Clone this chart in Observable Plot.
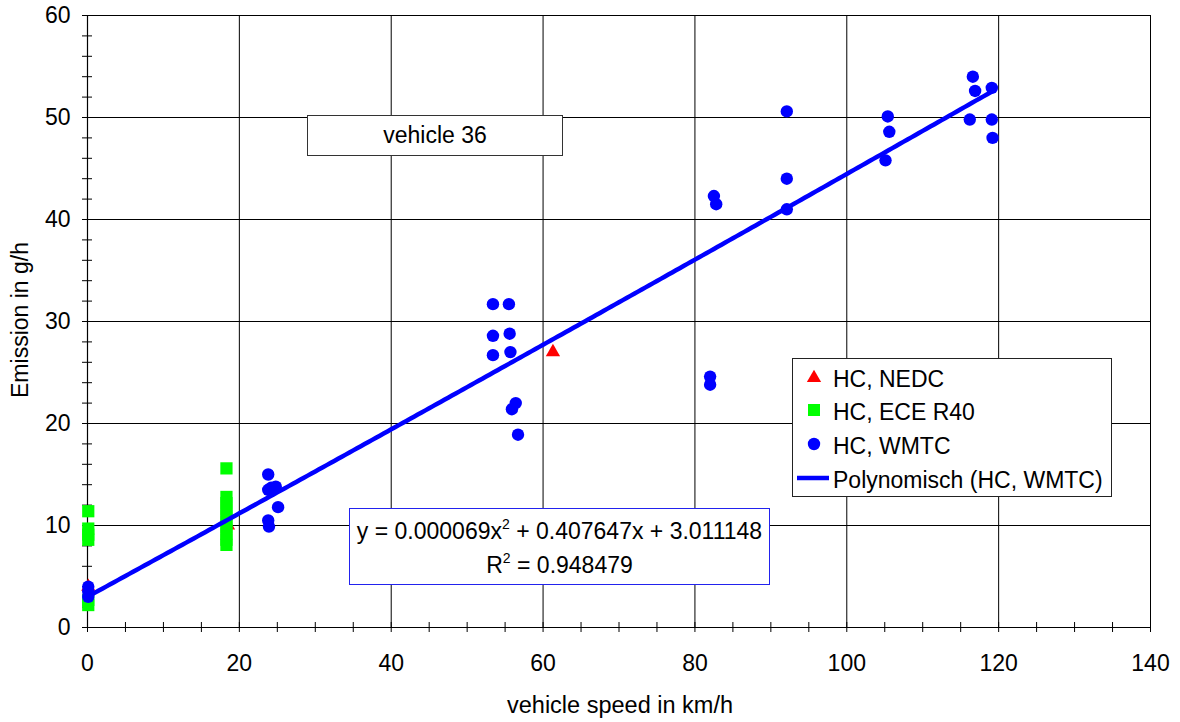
<!DOCTYPE html>
<html><head><meta charset="utf-8">
<script src="https://cdn.jsdelivr.net/npm/d3@7"></script>
<script src="https://cdn.jsdelivr.net/npm/@observablehq/plot@0.6"></script>
<style>
body{margin:0;background:#fff;font-family:"Liberation Sans",Arial,sans-serif;color:#000;}
#wrap{position:relative;width:1180px;height:722px;overflow:hidden;}
#wrap svg{position:absolute;left:0;top:0;}
.ov{position:absolute;font-size:23px;line-height:1;color:#000;}
sup{font-size:14px;vertical-align:top;position:relative;top:-3px;}
</style></head><body><div id="wrap"></div><script>
// ---- data ----
const nedcSpeed    = [0.1, 18.5, 61.3];
const nedcEmission = [4.0, 10.0, 27.0];

const eceSpeed    = [0.1, 0.1, 0.1, 0.1, 0.1, 0.1, 18.3, 18.3, 18.3, 18.3, 18.3, 18.3, 18.3, 18.3, 18.3, 18.3];
const eceEmission = [11.4, 9.7, 9.1, 8.6, 2.7, 2.2, 15.6, 12.8, 12.2, 11.6, 11.0, 10.4, 9.8, 9.2, 8.6, 8.1];

const wmtcSpeed = [0.1, 0.1, 0.1,
  23.8, 23.8, 24.2, 24.8, 25.1, 23.8, 23.9,
  53.4, 55.5, 53.4, 55.6, 53.4, 55.7, 56.4, 55.9, 56.7,
  82.5, 82.8, 82.0, 82.0,
  92.1, 92.1, 92.1,
  105.4, 105.6, 105.1,
  116.6, 116.9, 119.1, 116.2, 119.1, 119.2];
const wmtcEmission = [4.0, 3.5, 3.0,
  15.0, 13.5, 13.7, 13.8, 11.8, 10.5, 9.9,
  31.7, 31.7, 28.6, 28.8, 26.7, 27.0, 22.0, 21.4, 18.9,
  42.3, 41.5, 24.6, 23.8,
  50.6, 44.0, 41.0,
  50.1, 48.6, 45.8,
  54.0, 52.6, 52.9, 49.8, 49.8, 48.0];

// polynomial trendline (HC, WMTC): a*x^2 + b*x + c, as printed on the chart
const fitCoefficients = [0.000069, 0.407647, 3.011148];
const fitRange = [0, 119.2];
const fitR2 = 0.948479;

const xTicks = [0, 20, 40, 60, 80, 100, 120, 140];
const xMinorTicks = [5, 10, 15, 25, 30, 35, 45, 50, 55, 65, 70, 75, 85, 90, 95, 105, 110, 115, 125, 130, 135];
const yTicks = [0, 10, 20, 30, 40, 50, 60];
const yMinorTicks = [2, 4, 6, 8, 12, 14, 16, 18, 22, 24, 26, 28, 32, 34, 36, 38, 42, 44, 46, 48, 52, 54, 56, 58];

const seriesNames = ["HC, NEDC", "HC, ECE R40", "HC, WMTC", "Polynomisch (HC, WMTC)"];
const titleText = "vehicle 36";
const xLabel = "vehicle speed in km/h";
const yLabel = "Emission in g/h";

// ---- build tables ----
const nedc = nedcSpeed.map((x, i) => ({x, y: nedcEmission[i]}));
const ece = eceSpeed.map((x, i) => ({x, y: eceEmission[i]}));
const wmtc = wmtcSpeed.map((x, i) => ({x, y: wmtcEmission[i]}));
const [a, b, c] = fitCoefficients;
const fit = d3.range(fitRange[0], fitRange[1], 0.5).concat([fitRange[1]]).map(x => ({x, y: a * x * x + b * x + c}));

const chart = Plot.plot({
  width: 1180, height: 722,
  marginLeft: 87, marginRight: 30, marginTop: 15, marginBottom: 95,
  x: {domain: [0, 140]},
  y: {domain: [0, 60]},
  style: {fontFamily: '"Liberation Sans", Arial, sans-serif', fontSize: "23px", color: "#000", background: "#fff", overflow: "visible"},
  marks: [
    Plot.ruleX(xTicks.slice(1), {stroke: "#000", strokeWidth: 1}),
    Plot.ruleY(yTicks.slice(1), {stroke: "#000", strokeWidth: 1}),
    Plot.ruleX([0], {stroke: "#000", strokeWidth: 1.2}),
    Plot.ruleY([0], {stroke: "#000", strokeWidth: 1.2}),
    Plot.ruleX(xTicks.concat(xMinorTicks), {x: d => d, y1: 0, y2: 0, insetTop: -5, insetBottom: -5, stroke: "#000"}),
    Plot.ruleY(yTicks.concat(yMinorTicks), {y: d => d, x1: 0, x2: 0, insetLeft: -5, insetRight: -5, stroke: "#000"}),
    Plot.axisX({ticks: xTicks, tickSize: 0, tickPadding: 27, label: null, fontSize: 23}),
    Plot.axisY({ticks: yTicks, tickSize: 0, tickPadding: 17, label: null, fontSize: 23}),
    Plot.dot(nedc, {x: "x", y: "y", symbol: "triangle", fill: "#ff0000", r: 5.3, stroke: "none"}),
    Plot.dot(ece, {x: "x", y: "y", symbol: "square", fill: "#00ff00", r: 6.9, stroke: "none"}),
    Plot.dot(wmtc, {x: "x", y: "y", symbol: "circle", fill: "#0000ff", r: 6.2, stroke: "none"}),
    Plot.line(fit, {x: "x", y: "y", stroke: "#0000ff", strokeWidth: 4.5})
  ]
});
const wrap = document.getElementById("wrap");
wrap.appendChild(chart);

function ov(html, css) {
  const d = document.createElement("div");
  d.className = "ov";
  d.innerHTML = html;
  Object.assign(d.style, css);
  wrap.appendChild(d);
  return d;
}
// axis titles
ov(xLabel, {left: "0px", width: "1240px", top: "694px", textAlign: "center", fontSize: "23.5px"});
ov(yLabel, {left: "20px", top: "320px", transform: "translate(-50%,-50%) rotate(-90deg)", whiteSpace: "nowrap"});
// title box
ov(titleText, {left: "307px", top: "115px", width: "256px", height: "41px", border: "1.5px solid #333", background: "#fff", boxSizing: "border-box", display: "flex", alignItems: "center", justifyContent: "center"});
// equation box
ov(`<div>y = ${a.toFixed(6)}x<sup>2</sup> + ${b.toFixed(6)}x + ${c.toFixed(6)}</div><div style="margin-top:11px">R<sup>2</sup> = ${fitR2.toFixed(6)}</div>`,
  {left: "349px", top: "508px", width: "421px", height: "77px", border: "1px solid #2222ee", background: "#fff", boxSizing: "border-box", textAlign: "center", paddingTop: "11px"});
// legend
const sym = [
  `<svg width="20" height="20"><path d="${d3.symbol(d3.symbolTriangle, Math.PI * 5.3 * 5.3)()}" transform="translate(10,11)" fill="#ff0000"/></svg>`,
  `<svg width="20" height="20"><rect x="4" y="4" width="12" height="12" fill="#00ff00"/></svg>`,
  `<svg width="20" height="20"><circle cx="10" cy="10" r="6.2" fill="#0000ff"/></svg>`,
  `<svg width="34" height="20"><line x1="1" x2="33" y1="10" y2="10" stroke="#0000ff" stroke-width="4.5"/></svg>`
];
const leg = ov("", {left: "792px", top: "358px", width: "320px", height: "139px", border: "1.5px solid #222", background: "#fff", boxSizing: "border-box"});
const rowsY = [20, 53, 87, 121];
seriesNames.forEach((name, i) => {
  const r = document.createElement("div");
  r.style.cssText = `position:absolute;left:0;top:${rowsY[i] - 12}px;height:24px;width:318px;`;
  const s = document.createElement("div");
  s.innerHTML = sym[i];
  s.style.cssText = i === 3 ? "position:absolute;left:3px;top:0px;" : "position:absolute;left:11px;top:0px;";
  const t = document.createElement("div");
  t.textContent = name;
  t.style.cssText = "position:absolute;left:40px;top:0px;font-size:23px;line-height:24px;white-space:nowrap;";
  r.appendChild(s); r.appendChild(t);
  leg.appendChild(r);
});
</script></body></html>
